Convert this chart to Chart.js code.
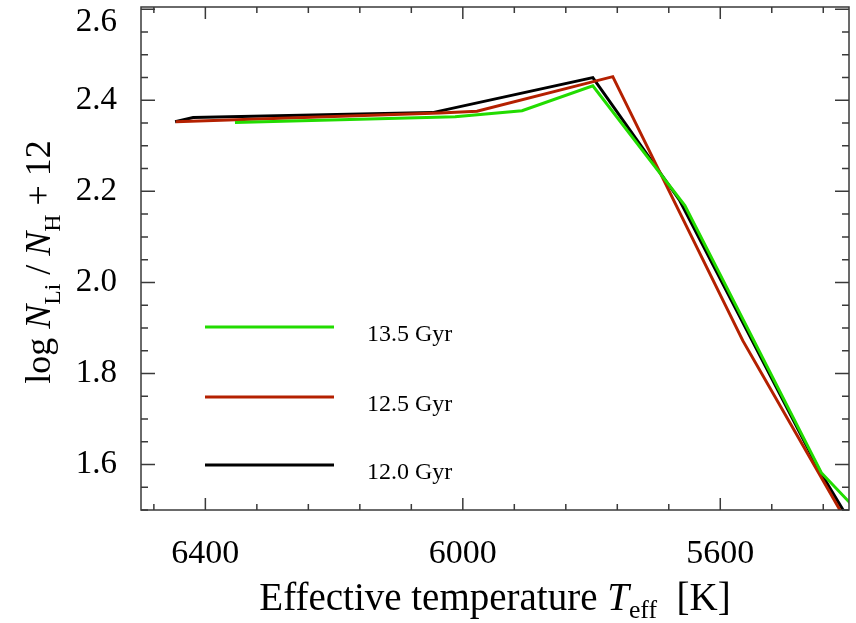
<!DOCTYPE html>
<html>
<head>
<meta charset="utf-8">
<title>Lithium abundance vs effective temperature</title>
<script src="https://cdn.jsdelivr.net/npm/chart.js@4.4.1/dist/chart.umd.min.js"></script>
<style>
  html, body { margin: 0; padding: 0; background: #fff; }
  #wrap { width: 856px; height: 623px; position: relative; }
</style>
</head>
<body>
<div id="wrap"><canvas id="chart"></canvas></div>
<script>
// Isochrone tracks: effective temperature [K] and log N(Li)/N(H) + 12
const teff135 = [6354, 6012, 5908, 5798, 5655, 5443, 5380];
const li135   = [2.351, 2.364, 2.377, 2.432, 2.169, 1.582, 1.488];

const teff125 = [6446, 6036, 5978, 5767, 5565, 5380];
const li125   = [2.353, 2.372, 2.376, 2.452, 1.872, 1.416];

const teff120 = [6447, 6419, 6047, 5798, 5663, 5446, 5380];
const li120   = [2.353, 2.362, 2.373, 2.450, 2.180, 1.587, 1.431];

const seriesLabels = ['13.5 Gyr', '12.5 Gyr', '12.0 Gyr'];
const seriesColors = ['#22dc00', '#b42000', '#000000'];

const xTicks = [6400, 6000, 5600];
const yTicks = [1.6, 1.8, 2.0, 2.2, 2.4, 2.6];
const xMinorStep = 80;
const yMinorStep = 0.05;

const SERIF = '"Liberation Serif", "Times New Roman", serif';

function toPoints(xs, ys) {
  return xs.map((x, i) => ({ x: x, y: ys[i] }));
}

function minorValues(min, max, step) {
  const out = [];
  const start = Math.ceil(min / step - 1e-9) * step;
  for (let v = start; v <= max + 1e-9; v += step) out.push(+v.toFixed(4));
  return out;
}

// Draws a run of text pieces (roman / italic / subscript) starting at x
function drawRich(ctx, parts, x, y, size, subDrop) {
  let cx = x;
  parts.forEach(p => {
    const s = p.sub ? size * 0.66 : size;
    ctx.font = (p.italic ? 'italic ' : '') + s + 'px ' + SERIF;
    const dy = p.sub ? size * subDrop : 0;
    ctx.fillText(p.t, cx, y + dy);
    cx += ctx.measureText(p.t).width;
  });
  return cx - x;
}

function richWidth(ctx, parts, size) {
  let w = 0;
  parts.forEach(p => {
    const s = p.sub ? size * 0.66 : size;
    ctx.font = (p.italic ? 'italic ' : '') + s + 'px ' + SERIF;
    w += ctx.measureText(p.t).width;
  });
  return w;
}

const xTitle = [
  { t: 'Effective temperature ' },
  { t: 'T', italic: true },
  { t: 'eff', sub: true },
  { t: '  [K]' }
];
const yTitle = [
  { t: 'log ' },
  { t: 'N', italic: true },
  { t: 'Li', sub: true },
  { t: ' / ' },
  { t: 'N', italic: true },
  { t: 'H', sub: true },
  { t: ' + 12' }
];

// Box frame with inward major/minor ticks on all four sides
const framePlugin = {
  id: 'frame',
  afterDatasetsDraw(chart) {
    const { ctx, chartArea: a, scales } = chart;
    const xs = scales.x, ys = scales.y;
    ctx.save();
    ctx.strokeStyle = '#3a3a3a';
    ctx.lineWidth = 1.5;
    ctx.strokeRect(a.left, a.top, a.right - a.left, a.bottom - a.top);

    const tick = (px, len, vertical) => {
      ctx.beginPath();
      if (vertical) {
        ctx.moveTo(px, a.bottom); ctx.lineTo(px, a.bottom - len);
        ctx.moveTo(px, a.top);    ctx.lineTo(px, a.top + len);
      } else {
        ctx.moveTo(a.left, px);  ctx.lineTo(a.left + len, px);
        ctx.moveTo(a.right, px); ctx.lineTo(a.right - len, px);
      }
      ctx.stroke();
    };
    minorValues(xs.min, xs.max, xMinorStep).forEach(v => {
      const major = xTicks.includes(v);
      tick(xs.getPixelForValue(v), major ? 12 : 6, true);
    });
    minorValues(ys.min, ys.max, yMinorStep).forEach(v => {
      const major = yTicks.some(t => Math.abs(t - v) < 1e-6);
      tick(ys.getPixelForValue(v), major ? 14 : 7, false);
    });
    ctx.restore();
  },
  afterDraw(chart) {
    const { ctx, chartArea: a } = chart;
    ctx.save();
    ctx.fillStyle = '#000';
    ctx.textBaseline = 'alphabetic';

    // legend inside the plot
    const lx0 = a.left + 64, lx1 = a.left + 193, tx = a.left + 226;
    const rows = [327, 397, 465];
    seriesLabels.forEach((lab, i) => {
      ctx.strokeStyle = seriesColors[i];
      ctx.lineWidth = 3;
      ctx.beginPath();
      ctx.moveTo(lx0, rows[i]); ctx.lineTo(lx1, rows[i]);
      ctx.stroke();
      ctx.font = '24px ' + SERIF;
      ctx.fillText(lab, tx, rows[i] + 14);
    });

    // x axis title
    const xs = 39;
    const xw = richWidth(ctx, xTitle, xs);
    drawRich(ctx, xTitle, (a.left + a.right) / 2 - xw / 2, 610, xs, 0.2);

    // y axis title, rotated
    const ysz = 36;
    const yw = richWidth(ctx, yTitle, ysz);
    ctx.translate(50, 262);
    ctx.rotate(-Math.PI / 2);
    drawRich(ctx, yTitle, -yw / 2, 0, ysz, 0.28);
    ctx.restore();
  }
};

const datasets = [
  { data: toPoints(teff135, li135) },
  { data: toPoints(teff125, li125) },
  { data: toPoints(teff120, li120) }
].map((d, i) => ({
  label: seriesLabels[i],
  data: d.data,
  borderColor: seriesColors[i],
  backgroundColor: seriesColors[i],
  borderWidth: 3,
  pointRadius: 0,
  tension: 0,
  fill: false
}));

const yTop = yTicks[yTicks.length - 1];

new Chart(document.getElementById('chart'), {
  type: 'line',
  data: { datasets: datasets },
  options: {
    responsive: true,
    maintainAspectRatio: false,
    animation: false,
    layout: { padding: { top: 7, right: 7, left: 0, bottom: 0 } },
    plugins: {
      legend: { display: false },
      tooltip: { enabled: false }
    },
    scales: {
      x: {
        type: 'linear',
        reverse: true,
        min: 5400,
        max: 6500,
        afterBuildTicks: s => { s.ticks = xTicks.map(v => ({ value: v })); },
        afterFit: s => {
          s.height = 113;
          s.paddingLeft = 0; s.paddingRight = 0;
        },
        grid: { display: false, drawTicks: false },
        border: { display: false },
        ticks: {
          padding: 24,
          color: '#000',
          font: { family: SERIF, size: 34 },
          maxRotation: 0,
          callback: v => String(v)
        }
      },
      y: {
        type: 'linear',
        min: 1.5,
        max: 2.605,
        afterBuildTicks: s => { s.ticks = yTicks.map(v => ({ value: v })); },
        afterFit: s => {
          s.width = 141;
          s.paddingTop = 0; s.paddingBottom = 0;
        },
        grid: { display: false, drawTicks: false },
        border: { display: false },
        ticks: {
          padding: 24,
          color: '#000',
          font: { family: SERIF, size: 33, lineHeight: 0.8 },
          // top label sits just below the frame edge
          callback: v => Math.abs(v - yTop) < 1e-6 ? ['', v.toFixed(1)] : v.toFixed(1)
        }
      }
    }
  },
  plugins: [framePlugin]
});
</script>
</body>
</html>
